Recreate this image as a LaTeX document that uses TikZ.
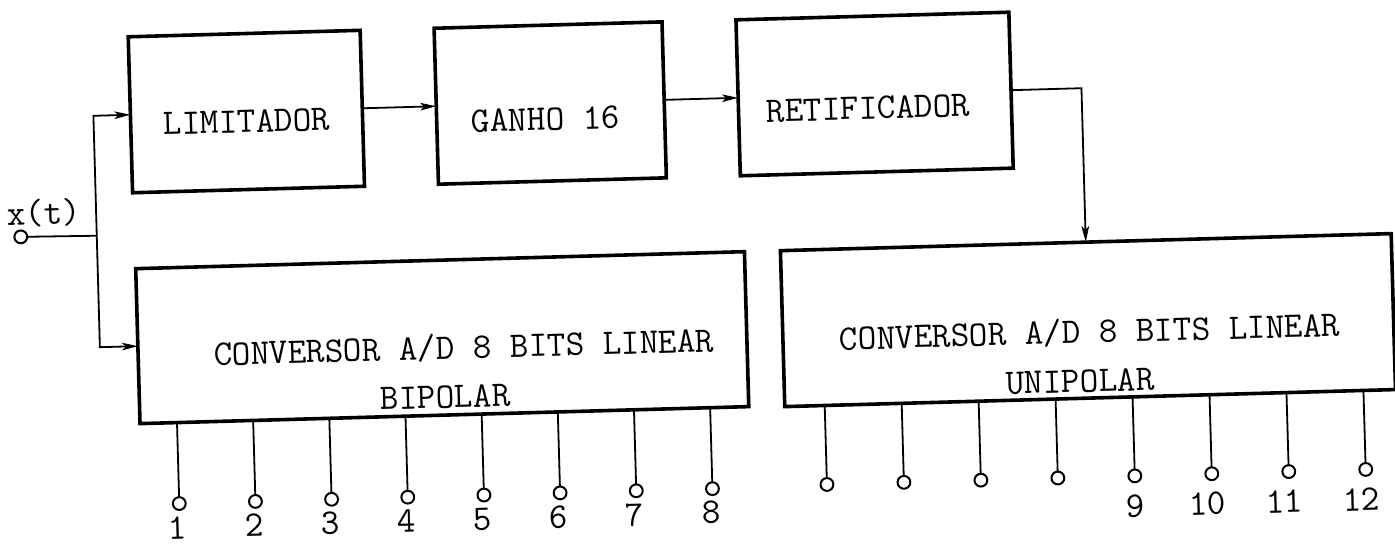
\documentclass[tikz,border=0pt]{standalone}
\usepackage{fontspec}
\usetikzlibrary{arrows.meta,calc}
\begin{document}
\begin{tikzpicture}[x=0.5pt,y=-0.5pt,
  box/.style={draw,line width=1.8pt,inner sep=0pt,outer sep=0pt},
  txt/.style={font=\ttfamily\fontsize{18pt}{21pt}\selectfont,inner sep=0pt},
  wire/.style={line width=0.9pt},
  arr/.style={wire,-{Stealth[length=8pt,width=3.8pt,inset=2pt]}},
  pin/.style={circle,draw,line width=1pt,minimum size=6.4pt,inner sep=0pt,outer sep=0pt,fill=white}]
\useasboundingbox (0,0) rectangle (1395,545);
\begin{scope}[rotate around={1.6:(697.5,272.5)},transform shape]
  % blocks
  \node[box,minimum width=116pt,minimum height=78pt] (lim) at (251,99) {};
  \node[box,minimum width=114pt,minimum height=78pt] (gan) at (555,99) {};
  \node[box,minimum width=136.5pt,minimum height=78pt] (ret) at (879.5,99) {};
  \node[box,minimum width=304.5pt,minimum height=77.5pt] (bip) at (440.5,330.5) {};
  \node[box,minimum width=305.5pt,minimum height=78pt] (uni) at (1086.5,331) {};
  % texts
  \node[txt] (limt) at (251,109) {LIMITADOR};
  \node[txt] (gant) at (550,115) {GANHO 16};
  \node[txt] (rett) at (872.6,113) {RETIFICADOR};
  \node[txt] (bipa) at (462,341) {CONVERSOR A/D 8 BITS LINEAR};
  \node[txt] (bipb) at (442,390) {BIPOLAR};
  \node[txt] (unia) at (1088,343) {CONVERSOR A/D 8 BITS LINEAR};
  \node[txt] (unib) at (1077,392) {UNIPOLAR};
  \node[txt] (xt) at (46,195) {x(t)};
  % input
  \node[pin] (in) at (22,218) {};
  \coordinate (j) at (98,219);
  \coordinate (jt) at (98,99);
  \coordinate (jb) at (98,330.5);
  \draw[wire] (in) -- (j);
  \draw[arr] (j) -- (jt) -- (lim.west);
  \draw[arr] (j) -- (jb) -- (bip.west);
  % chain
  \draw[arr] (lim) -- (gan);
  \draw[arr] (gan) -- (ret);
  \coordinate (rc) at (1086.5,99);
  \draw[arr] (ret) -- (rc) -- (uni.north);
  % bipolar outputs
  \foreach \i in {1,...,8} {
    \pgfmathsetmacro\px{173+76.2*(\i-1)}
    \pgfmathsetmacro\f{(\px-136)/609}
    \coordinate (bt\i) at ($(bip.south west)!\f!(bip.south east)$);
    \node[pin] (bp\i) at (\px,489) {};
    \draw[wire] (bt\i) -- (bp\i);
    \node[txt] (bl\i) at (\px-2,513) {\i};
  }
  % unipolar outputs
  \foreach \i in {1,...,8} {
    \pgfmathsetmacro\px{821+77*(\i-1)}
    \pgfmathsetmacro\f{(\px-781)/611}
    \coordinate (ut\i) at ($(uni.south west)!\f!(uni.south east)$);
    \node[pin] (up\i) at (\px,488) {};
    \draw[wire] (ut\i) -- (up\i);
  }
  \foreach \i/\lab/\dx in {5/9/0,6/10/-5,7/11/-5,8/12/-5} {
    \node[txt] (ul\lab) at (821+77*\i-77+\dx,518) {\lab};
  }
\end{scope}
\end{tikzpicture}
\end{document}
